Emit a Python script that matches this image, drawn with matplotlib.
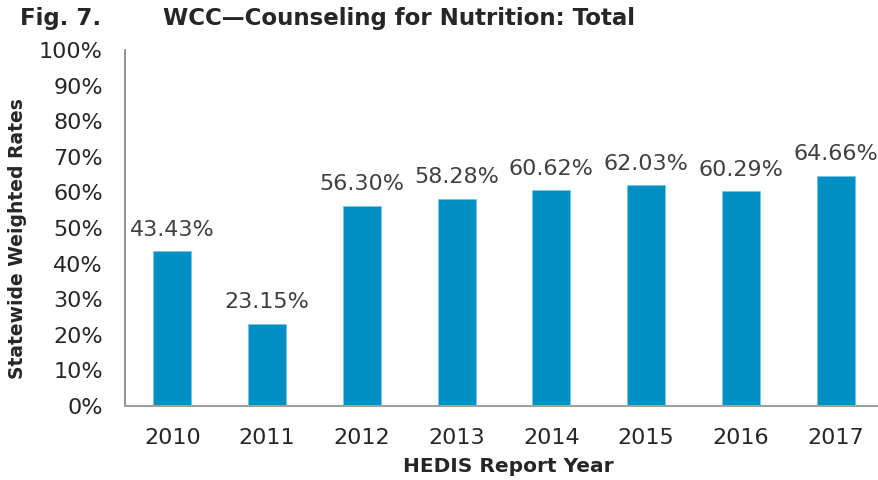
import matplotlib
matplotlib.use("Agg")
import matplotlib.pyplot as plt

years = ["2010", "2011", "2012", "2013", "2014", "2015", "2016", "2017"]
rates = [43.43, 23.15, 56.30, 58.28, 60.62, 62.03, 60.29, 64.66]
yticks = [0, 10, 20, 30, 40, 50, 60, 70, 80, 90, 100]

plt.rcParams['font.family'] = ['DejaVu Sans']

fig = plt.figure(figsize=(8.79, 4.8), dpi=100)
ax = fig.add_axes([125/879, 1-406/480, (883-125)/879, (406-50)/480])

x = list(range(len(years)))
ax.bar(x, rates, width=0.4, color="#008FC5", edgecolor="#7cc4e2", linewidth=0.6)
for xi, v in zip(x, rates):
    ax.text(xi, v + 3.2, f"{v:.2f}%", ha="center", va="bottom", fontsize=16, color="#404040")

ax.set_xlim(-0.5, len(years) - 0.5)
ax.set_ylim(0, 100)
ax.set_yticks(yticks)
ax.set_yticklabels([f"{t}%" for t in yticks], fontsize=16, color="#262626")
ax.set_xticks(x)
ax.set_xticklabels(years, fontsize=16, color="#262626")
ax.tick_params(axis="y", length=0, pad=16)
ax.tick_params(axis="x", length=0, pad=16)
for s in ["top", "right"]:
    ax.spines[s].set_visible(False)
ax.spines["left"].set_color("#7f7f7f")
ax.spines["bottom"].set_color("#a0a0a0")
ax.spines["left"].set_linewidth(1.2)
ax.spines["bottom"].set_linewidth(1.5)

fig.text(18/879, 1-239/480, "Statewide Weighted Rates", rotation=90, ha="center", va="center",
         fontsize=13.5, fontweight="bold", color="#262626")
fig.text(508/879, 1-466/480, "HEDIS Report Year", ha="center", va="center",
         fontsize=14.5, fontweight="bold", color="#262626")
fig.text(20/879, 1-19/480, "Fig. 7.", ha="left", va="center", fontsize=16.5, fontweight="bold", color="#262626")
fig.text(163/879, 1-19/480, "WCC\u2014Counseling for Nutrition: Total", ha="left", va="center",
         fontsize=16.5, fontweight="bold", color="#262626")

fig.savefig("out.png", dpi=100)
